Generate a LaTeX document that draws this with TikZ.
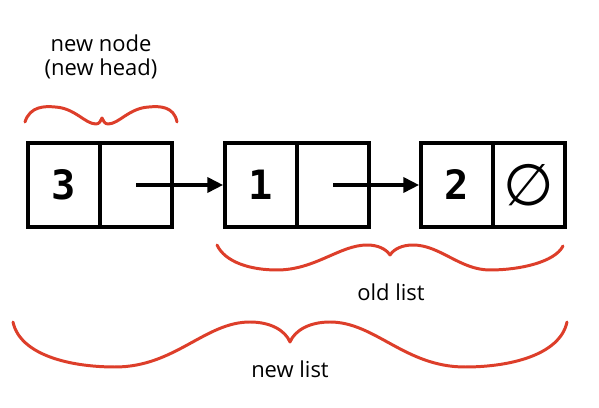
\documentclass[tikz,border=0pt]{standalone}
\usepackage{fontspec}
\setmainfont{Open Sans}
\newfontfamily\digitfont{DejaVu Sans Mono}
\newfontfamily\symfont{DejaVu Sans}
\usetikzlibrary{arrows.meta}
\definecolor{bracered}{RGB}{221,62,42}

\begin{document}
\begin{tikzpicture}[x=0.02cm, y=-0.02cm,
	cell/.style={draw, line width=2.1pt, minimum width=1.44cm, minimum height=1.68cm, inner sep=0pt, font=\digitfont\bfseries\fontsize{23}{23}\selectfont},
	link/.style={line width=2.1pt, -{Triangle[length=9pt, width=8.5pt]}},
	brace/.style={bracered, line width=1.7pt, line cap=round, line join=round},
	lbl/.style={font=\fontsize{12.5}{13.4}\selectfont, align=center}]
	\useasboundingbox (0, 0) rectangle (599, 408);
	\node [cell] (n3val) at (64, 185) {3};
	\node [cell] (n3next) at (136, 185) {};
	\node [cell] (n1val) at (261, 185) {1};
	\node [cell] (n1next) at (333, 185) {};
	\node [cell] (n2val) at (457, 185) {2};
	\node [cell, font=\symfont\fontsize{33}{33}\selectfont] (n2next) at (529, 185) {∅};
	\draw [link] (n3next.center) -- (n1val.west);
	\draw [link] (n1next.center) -- (n2val.west);
	\node [lbl] (newlbl) at (101, 57) {new node\\(new head)};
	\draw [brace] (25, 122) .. controls (30, 106) and (45, 106) .. (55, 107)
		.. controls (75, 108) and (85, 124) .. (96, 124)
		.. controls (99, 124) and (101, 121) .. (102, 118)
		.. controls (103, 121) and (105, 124) .. (108, 124)
		.. controls (119, 124) and (129, 108) .. (149, 107)
		.. controls (159, 106) and (174, 106) .. (177, 122);
	\node [lbl] (oldlbl) at (391, 292) {old list};
	\draw [brace] (217, 245) .. controls (225, 262) and (250, 270) .. (277, 270)
		.. controls (315, 270) and (340, 245) .. (367, 245)
		.. controls (378, 245) and (386, 249) .. (390, 255)
		.. controls (394, 249) and (402, 245) .. (413, 245)
		.. controls (440, 245) and (460, 270) .. (490, 270)
		.. controls (520, 270) and (555, 262) .. (563, 246);
	\node [lbl] (listlbl) at (290, 369) {new list};
	\draw [brace] (13, 322) .. controls (20, 355) and (70, 367) .. (115, 367)
		.. controls (175, 367) and (205, 322) .. (250, 322)
		.. controls (270, 322) and (285, 330) .. (290, 342)
		.. controls (295, 330) and (310, 322) .. (330, 322)
		.. controls (375, 322) and (405, 367) .. (465, 367)
		.. controls (510, 367) and (560, 355) .. (567, 322);
\end{tikzpicture}
\end{document}
